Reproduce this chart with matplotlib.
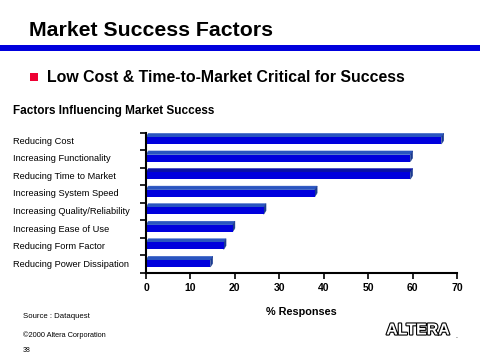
import matplotlib
matplotlib.use("Agg")
import matplotlib.pyplot as plt
from matplotlib.patches import Polygon, Rectangle
import matplotlib.patheffects as pe

categories = ["Reducing Cost", "Increasing Functionality", "Reducing Time to Market",
              "Increasing System Speed", "Increasing Quality/Reliability",
              "Increasing Ease of Use", "Reducing Form Factor", "Reducing Power Dissipation"]
values = [66.5, 59.5, 59.5, 38.0, 26.5, 19.5, 17.5, 14.5]
xticks = [0, 10, 20, 30, 40, 50, 60, 70]
top_colors = ["#2a55c0", "#2a55c0", "#0a10a8", "#2a55c0", "#2a55c0", "#2a55c0", "#2a55c0", "#2a55c0"]

plt.rcParams['font.family'] = ['Liberation Sans', 'DejaVu Sans']

fig = plt.figure(figsize=(4.8, 3.6), dpi=100)
fig.patch.set_facecolor("white")

W, H = 480.0, 360.0
def fx(x): return x / W
def fy(y): return 1 - y / H

# Title and rule
fig.text(fx(29), fy(31), "Market Success Factors", fontsize=15.3, fontweight="bold",
         va="center", ha="left")
fig.add_artist(Rectangle((0, fy(50.5)), 1, 5.5 / H, transform=fig.transFigure,
                         facecolor="#0000dd", edgecolor="none"))
# bullet
fig.add_artist(Rectangle((fx(30), fy(81)), 8 / W, 8 / H, transform=fig.transFigure,
                         facecolor="#ee0033", edgecolor="none"))
fig.text(fx(47), fy(77), "Low Cost & Time-to-Market Critical for Success", fontsize=11.4,
         fontweight="bold", va="center", ha="left")
fig.text(fx(13), fy(111), "Factors Influencing Market Success", fontsize=8.5, fontweight="bold",
         va="center", ha="left")

ax = fig.add_axes([fx(146), fy(273), (457 - 146) / W, (273 - 132.5) / H])
n = len(categories)
ax.set_xlim(0, 70)
ax.set_ylim(n - 0.5, -0.5)

dx = 0.52
label_x = (13 - 146) / (457 - 146)
for i, (v, tc) in enumerate(zip(values, top_colors)):
    y_top = i - 0.24
    y_bot = i + 0.16
    dy = 0.21
    ax.add_patch(Polygon([(0, y_top), (v, y_top), (v + dx, y_top - dy), (dx, y_top - dy)],
                         closed=True, facecolor=tc, edgecolor=tc, linewidth=0.3))
    ax.add_patch(Polygon([(v, y_top), (v + dx, y_top - dy), (v + dx, y_bot - dy), (v, y_bot)],
                         closed=True, facecolor="#1a3a90", edgecolor="#1a3a90", linewidth=0.3))
    ax.add_patch(Rectangle((0, y_top), v, y_bot - y_top, facecolor="#0000dd", edgecolor="none"))
    ax.text(label_x, i, categories[i], transform=ax.get_yaxis_transform(), fontsize=6.7,
            va="center", ha="left")

for s in ["top", "right"]:
    ax.spines[s].set_visible(False)
ax.spines["left"].set_linewidth(1.5)
ax.spines["bottom"].set_linewidth(1.5)
ax.set_yticks([k - 0.5 for k in range(n + 1)])
ax.set_yticklabels([])
ax.tick_params(axis="y", length=4, width=1.2, direction="out")
ax.set_xticks(xticks)
ax.set_xticklabels([str(t) for t in xticks], fontsize=7.5, fontweight="bold")
ax.tick_params(axis="x", length=4, width=1.2, direction="out", pad=3)
ax.set_xlabel("% Responses", fontsize=7.8, fontweight="bold", labelpad=10)

fig.text(fx(23), fy(316), "Source : Dataquest", fontsize=5.6, va="center", ha="left")
fig.text(fx(23), fy(335), "\u00a92000 Altera Corporation", fontsize=5.3, va="center", ha="left")
fig.text(fx(23), fy(351), "38", fontsize=5, va="center", ha="left")

t = fig.text(fx(418), fy(330), "ALTERA", fontsize=11.5, fontweight="bold", color="white",
             va="center", ha="center")
t.set_path_effects([pe.Stroke(linewidth=1.6, foreground="black"), pe.Normal()])
fig.text(fx(455), fy(336), ".", fontsize=5, va="center", ha="left")

fig.savefig("out.png", dpi=100)
